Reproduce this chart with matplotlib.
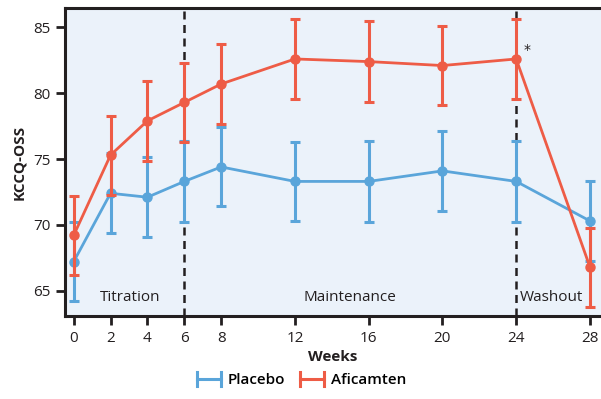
import matplotlib.pyplot as plt
from matplotlib.lines import Line2D
from matplotlib.legend_handler import HandlerBase

plt.rcParams['font.family'] = ['Open Sans', 'DejaVu Sans']

weeks = [0, 2, 4, 6, 8, 12, 16, 20, 24, 28]
placebo = [67.2, 72.4, 72.1, 73.3, 74.4, 73.3, 73.3, 74.1, 73.3, 70.3]
placebo_err = [3.0, 3.05, 3.05, 3.05, 3.0, 3.0, 3.05, 3.05, 3.05, 3.05]
aficamten = [69.2, 75.3, 77.9, 79.3, 80.7, 82.6, 82.4, 82.1, 82.6, 66.8]
aficamten_err = [3.0, 3.0, 3.05, 3.0, 3.05, 3.05, 3.05, 3.0, 3.05, 3.0]

phase_lines = [6, 24]
phase_labels = ['Titration', 'Maintenance', 'Washout']
phase_label_x = [3.05, 15.0, 25.9]

blue = '#5AA5DA'
red = '#EE5C46'
dark = '#231F20'
fs = 11


class CapHandler(HandlerBase):
    def create_artists(self, legend, orig_handle, xdescent, ydescent,
                       width, height, fontsize, trans):
        c = orig_handle.get_color()
        y = height / 2 - ydescent
        x0, x1 = -xdescent + 2, -xdescent + width - 2
        line = Line2D([x0, x1], [y, y], color=c, lw=2.2, transform=trans)
        cap1 = Line2D([x0, x0], [y - 5, y + 5], color=c, lw=2.2, transform=trans)
        cap2 = Line2D([x1, x1], [y - 5, y + 5], color=c, lw=2.2, transform=trans)
        return [line, cap1, cap2]


fig = plt.figure(figsize=(6.01, 3.99), dpi=100)
ax = fig.add_axes([65 / 601, 83 / 399, 536 / 601, 308 / 399])
ax.set_facecolor('#EBF2FA')

for xv in phase_lines:
    ax.axvline(xv, color=dark, lw=1.8, ls=(0, (3.2, 2.2)), zorder=1)

ax.errorbar(weeks, placebo, yerr=placebo_err, color=blue, lw=2.0,
            elinewidth=2.2, capsize=3.5, capthick=2.2, marker='o', ms=6.5, zorder=3)
ax.errorbar(weeks, aficamten, yerr=aficamten_err, color=red, lw=2.0,
            elinewidth=2.2, capsize=3.5, capthick=2.2, marker='o', ms=6.5, zorder=4)

ax.text(24.57, 83.3, '*', fontsize=10, color=dark, ha='center', va='center',
        family='DejaVu Sans')

for lab, xv in zip(phase_labels, phase_label_x):
    ax.text(xv, 64.5, lab, fontsize=fs, color=dark, ha='center', va='center')

ax.set_xlim(-0.47, 28.6)
ax.set_ylim(63.08, 86.47)
ax.set_xticks(weeks)
ax.set_yticks([65, 70, 75, 80, 85])
ax.tick_params(axis='both', labelsize=fs, colors=dark, width=2, length=6.5, direction='out')
ax.tick_params(axis='x', pad=4)
ax.tick_params(axis='y', pad=4)

for s in ['left', 'bottom', 'top']:
    ax.spines[s].set_linewidth(2.2)
    ax.spines[s].set_color(dark)
ax.spines['right'].set_visible(False)

ax.set_xlabel('Weeks', fontsize=fs, fontweight='bold', color=dark, labelpad=3)
ax.set_ylabel('KCCQ-OSS', fontsize=fs, fontweight='bold', color=dark, labelpad=5)

handles = [Line2D([], [], color=blue), Line2D([], [], color=red)]
fig.legend(handles, ['Placebo', 'Aficamten'], loc='center', bbox_to_anchor=(0.5, 0.047),
           ncol=2, frameon=False, handlelength=1.9, handletextpad=0.3,
           columnspacing=0.8, handler_map={Line2D: CapHandler()},
           prop={'weight': 'semibold', 'size': fs})

fig.savefig('out.png', dpi=100)
